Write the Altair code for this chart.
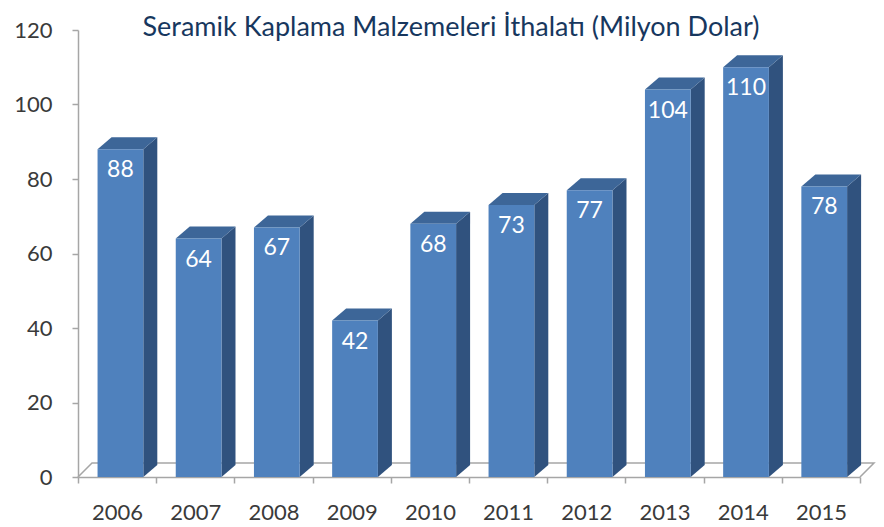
import altair as alt
import pandas as pd

# ---- data ----
years = ["2006", "2007", "2008", "2009", "2010", "2011", "2012", "2013", "2014", "2015"]
values = [88, 64, 67, 42, 68, 73, 77, 104, 110, 78]
y_ticks = [0, 20, 40, 60, 80, 100, 120]
title_text = "Seramik Kaplama Malzemeleri İthalatı (Milyon Dolar)"

# ---- style / geometry constants ----
W, H = 782, 447
YMAX = 120
band = W / len(years)
FACE_L, FACE_R = 0.25, 0.835      # front face position inside a category band
DX_PX, DY_PX = 14, 12             # bar depth (pixels)
FDX_PX, FDY_PX = 14, 14           # floor depth (pixels)
dxu = DX_PX / band
dyu = DY_PX * YMAX / H
fdxu = FDX_PX / band
fdyu = FDY_PX * YMAX / H

FONT = "Lato"
FRONT = "#4F81BD"
SIDE = "#30527E"
TOPC = "#3D6698"
GRID = "#A6A6A6"
LABEL = "#3a3a3a"

n = len(years)
xs = alt.Scale(domain=[0, n], nice=False, zero=False)
ys = alt.Scale(domain=[0, YMAX], nice=False, zero=False)

year_expr = "[" + ",".join("'%s'" % y for y in years) + "]"
x_axis = alt.Axis(
    title=None, values=list(range(n + 1)),
    labelExpr="datum.value < %d ? %s[datum.value] : ''" % (n, year_expr),
    labelOffset=band / 2, labelFlush=False, labelOverlap=False,
    labelFont=FONT, labelFontSize=22, labelFontWeight=400, labelColor=LABEL,
    labelPadding=19, tickSize=6, tickColor=GRID, domainColor=GRID,
    domainWidth=1.5, tickWidth=1.5, grid=False,
)
y_axis = alt.Axis(
    title=None, values=y_ticks, labelFont=FONT, labelFontSize=22,
    labelFontWeight=400, labelColor=LABEL, labelPadding=20, tickSize=6,
    tickColor=GRID, domainColor=GRID, domainWidth=1.5, tickWidth=1.5,
    grid=False,
)

front = pd.DataFrame({
    "year": years,
    "value": values,
    "zero": [0] * n,
    "x0": [i + FACE_L for i in range(n)],
    "x1": [i + FACE_R for i in range(n)],
    "xc": [i + (FACE_L + FACE_R) / 2 for i in range(n)],
})

side_rows, top_rows = [], []
for i, (yr, v) in enumerate(zip(years, values)):
    xl, xr = i + FACE_L, i + FACE_R
    side_rows += [
        {"year": yr, "x": xr, "lo": 0, "hi": v},
        {"year": yr, "x": xr + dxu, "lo": dyu, "hi": v + dyu},
    ]
    top_rows += [
        {"year": yr, "x": xl, "lo": v, "hi": v},
        {"year": yr, "x": xl + dxu, "lo": v, "hi": v + dyu},
        {"year": yr, "x": xr, "lo": v, "hi": v + dyu},
        {"year": yr, "x": xr + dxu, "lo": v + dyu, "hi": v + dyu},
    ]
side = pd.DataFrame(side_rows)
top = pd.DataFrame(top_rows)
floor = pd.DataFrame({
    "x": [0, fdxu, n + fdxu, n],
    "y": [0, fdyu, fdyu, 0],
    "ord": [0, 1, 2, 3],
})

floor_layer = alt.Chart(floor).mark_line(
    color=GRID, strokeWidth=1.5, interpolate="linear"
).encode(
    x=alt.X("x:Q", scale=xs, axis=x_axis),
    y=alt.Y("y:Q", scale=ys, axis=y_axis),
    order=alt.Order("ord:Q"),
)

side_layer = alt.Chart(side).mark_area(fill=SIDE, interpolate="linear").encode(
    x=alt.X("x:Q", scale=xs, axis=x_axis),
    y=alt.Y("lo:Q", scale=ys, axis=y_axis, stack=None),
    y2="hi:Q",
    detail="year:N",
)

top_layer = alt.Chart(top).mark_area(fill=TOPC, interpolate="linear").encode(
    x=alt.X("x:Q", scale=xs, axis=x_axis),
    y=alt.Y("lo:Q", scale=ys, axis=y_axis, stack=None),
    y2="hi:Q",
    detail="year:N",
)

front_layer = alt.Chart(front).mark_rect(color=FRONT).encode(
    x=alt.X("x0:Q", scale=xs, axis=x_axis),
    x2="x1:Q",
    y=alt.Y("value:Q", scale=ys, axis=y_axis),
    y2="zero:Q",
)

label_layer = alt.Chart(front).mark_text(
    font=FONT, fontSize=23, color="white", baseline="middle", dy=21
).encode(
    x=alt.X("xc:Q", scale=xs, axis=x_axis),
    y=alt.Y("value:Q", scale=ys, axis=y_axis),
    text="value:Q",
)

chart = alt.layer(
    floor_layer, side_layer, top_layer, front_layer, label_layer
).properties(
    width=W, height=H,
    title=alt.TitleParams(
        title_text, font=FONT, fontSize=27, fontWeight="normal",
        color="#17375E", anchor="middle", dx=-18, offset=-23,
    ),
    autosize=alt.AutoSizeParams(type="none"),
    padding={"left": 70, "top": 22, "right": 16, "bottom": 49},
).configure_view(stroke=None)

chart.save("out.html", embed_options={"renderer": "svg", "actions": False})
